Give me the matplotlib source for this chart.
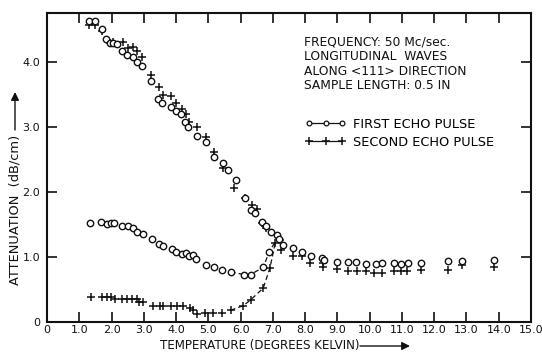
import numpy as np
import matplotlib
matplotlib.use("Agg")
import matplotlib.pyplot as plt
from matplotlib.lines import Line2D

plt.rcParams['font.family'] = ['DejaVu Sans']

# First echo pulse, main (upper) branch and high-temperature plateau
first_upper_T = [1.30, 1.49, 1.69, 1.82, 1.95, 2.06, 2.16, 2.31, 2.49, 2.67, 2.80, 2.93,
                 3.22, 3.45, 3.55, 3.84, 4.00, 4.14, 4.28, 4.38, 4.64, 4.92, 5.18, 5.46,
                 5.62, 5.86, 6.14, 6.31, 6.45, 6.67, 6.79, 6.93, 7.12, 7.19, 7.32, 7.63,
                 7.89, 8.18, 8.51, 8.59, 8.98, 9.32, 9.57, 9.88, 10.19, 10.39, 10.75,
                 10.96, 11.20, 11.59, 12.42, 12.87, 13.86]
first_upper_att = [4.62, 4.62, 4.50, 4.35, 4.29, 4.29, 4.27, 4.17, 4.11, 4.07, 4.00, 3.94,
                   3.70, 3.43, 3.37, 3.30, 3.25, 3.19, 3.08, 2.99, 2.86, 2.76, 2.53, 2.44,
                   2.34, 2.18, 1.90, 1.72, 1.68, 1.54, 1.48, 1.39, 1.34, 1.27, 1.18, 1.13,
                   1.08, 1.02, 0.98, 0.96, 0.93, 0.93, 0.93, 0.89, 0.89, 0.90, 0.90,
                   0.89, 0.90, 0.90, 0.94, 0.94, 0.95]

# First echo pulse, lower branch
first_lower_T = [1.33, 1.66, 1.85, 1.97, 2.09, 2.31, 2.50, 2.67, 2.78, 2.97, 3.24, 3.47,
                 3.60, 3.86, 3.99, 4.19, 4.31, 4.41, 4.53, 4.61, 4.92, 5.18, 5.43, 5.69,
                 6.10, 6.31, 6.70, 6.89]
first_lower_att = [1.52, 1.53, 1.51, 1.52, 1.52, 1.48, 1.48, 1.44, 1.38, 1.35, 1.28, 1.20,
                   1.17, 1.12, 1.08, 1.05, 1.06, 1.02, 1.03, 0.97, 0.88, 0.84, 0.80, 0.77,
                   0.73, 0.73, 0.84, 1.08]

# Second echo pulse, main (upper) branch and high-temperature plateau
second_upper_T = [1.30, 1.49, 1.69, 1.85, 2.06, 2.34, 2.52, 2.65, 2.80, 2.93, 3.22, 3.48,
                  3.58, 3.84, 4.00, 4.17, 4.31, 4.41, 4.66, 4.92, 5.18, 5.46, 5.80, 6.14,
                  6.34, 6.51, 6.67, 6.79, 7.22, 7.24, 7.63, 7.89, 8.15, 8.54, 8.56, 8.98,
                  9.34, 9.60, 9.88, 10.13, 10.37, 10.75, 10.96, 11.17, 11.59, 12.42,
                  12.87, 13.86]
second_upper_att = [4.56, 4.56, 4.48, 4.33, 4.31, 4.31, 4.21, 4.23, 4.17, 4.08, 3.80, 3.61,
                    3.49, 3.47, 3.36, 3.28, 3.19, 3.08, 3.00, 2.85, 2.62, 2.36, 2.06, 1.90,
                    1.80, 1.73, 1.52, 1.45, 1.26, 1.11, 1.02, 1.01, 0.90, 0.90, 0.85, 0.82,
                    0.79, 0.79, 0.78, 0.76, 0.76, 0.79, 0.79, 0.79, 0.80, 0.80,
                    0.87, 0.85]

# Second echo pulse, lower branch
second_lower_T = [1.35, 1.69, 1.85, 1.97, 2.11, 2.31, 2.47, 2.62, 2.78, 2.86, 2.97, 3.29,
                  3.50, 3.59, 3.84, 4.02, 4.22, 4.43, 4.53, 4.64, 4.90, 5.13, 5.41, 5.69,
                  6.08, 6.31, 6.70, 6.91, 7.07]
second_lower_att = [0.38, 0.39, 0.39, 0.39, 0.35, 0.35, 0.36, 0.35, 0.35, 0.31, 0.30, 0.24,
                    0.24, 0.24, 0.25, 0.25, 0.25, 0.21, 0.18, 0.13, 0.14, 0.14, 0.14, 0.18,
                    0.25, 0.34, 0.52, 0.83, 1.21]

# Lower branches are joined to the main curve by dashed lines above this temperature
dash_from_T = 5.6
junction = (7.15, 1.30)

x_ticks = [0, 1, 2, 3, 4, 5, 6, 7, 8, 9, 10, 11, 12, 13, 14, 15]
x_tick_labels = ['0', '1.0', '2.0', '3.0', '4.0', '5.0', '6.0', '7.0', '8.0', '9.0',
                 '10.0', '11.0', '12.0', '13.0', '14.0', '15.0']
y_ticks = [0, 1, 2, 3, 4]
y_tick_labels = ['0', '1.0', '2.0', '3.0', '4.0']

notes = ["FREQUENCY: 50 Mc/sec.", "LONGITUDINAL  WAVES",
         "ALONG <111> DIRECTION", "SAMPLE LENGTH: 0.5 IN"]

W, H = 542, 355
fig = plt.figure(figsize=(W / 100, H / 100), dpi=100)
ax = fig.add_axes([47 / W, 33 / H, 484 / W, 309 / H])
ax.set_xlim(0, 15)
ax.set_ylim(0, 4.75)

ink = '#111111'
circ = dict(marker='o', ms=4.6, mfc='white', mec=ink, mew=1.0, ls='none')
plus = dict(marker='+', ms=6.0, mec=ink, mew=1.1, ls='none')

# Dashed joins of the lower branches
for T, A in ((first_lower_T, first_lower_att), (second_lower_T, second_lower_att)):
    T = np.asarray(T)
    A = np.asarray(A)
    sel = T >= dash_from_T
    xs = np.append(T[sel], junction[0])
    ys = np.append(A[sel], junction[1])
    ax.plot(xs, ys, color=ink, lw=0.9, ls=(0, (4, 2.5)), zorder=2)

ax.plot(second_upper_T, second_upper_att, **plus, zorder=3)
ax.plot(second_lower_T, second_lower_att, **plus, zorder=3)
ax.plot(first_upper_T, first_upper_att, **circ, zorder=4)
ax.plot(first_lower_T, first_lower_att, **circ, zorder=4)

ax.set_xticks(x_ticks)
ax.set_xticklabels(x_tick_labels)
ax.set_yticks(y_ticks)
ax.set_yticklabels(y_tick_labels)
ax.tick_params(direction='in', length=7, width=1.2, top=True, right=True,
               labelsize=8, colors=ink)
ax.tick_params(axis='x', pad=2.5)
ax.tick_params(axis='y', pad=5)
for s in ax.spines.values():
    s.set_linewidth(1.5)
    s.set_color(ink)

for i, line in enumerate(notes):
    ax.text(304, H - 42 - i * 14.6, line, transform=None, fontsize=8.8,
            color=ink, va='center', ha='left')

handles = [Line2D([], [], color=ink, lw=0.9, marker='o', ms=3.4, mfc='white',
                  mec=ink, mew=0.9),
           Line2D([], [], color=ink, lw=0.9, marker='+', ms=6, mec=ink, mew=1.1)]
ax.legend(handles, ['FIRST ECHO PULSE', 'SECOND ECHO PULSE'], numpoints=3,
          loc='upper left', bbox_to_anchor=(305 / W, (H - 118) / H),
          bbox_transform=fig.transFigure, frameon=False, fontsize=9.3,
          handlelength=3.2, handletextpad=0.55, labelspacing=0.35,
          borderpad=0, borderaxespad=0)

# Axis titles with arrows
fig.text(260 / W, 9 / H, "TEMPERATURE (DEGREES KELVIN)", fontsize=8.6,
         ha='center', va='center', color=ink)
ax.annotate('', xy=(410, 9), xytext=(360, 9), xycoords='figure pixels',
            textcoords='figure pixels',
            arrowprops=dict(arrowstyle='-|>', color=ink, lw=1.0,
                            mutation_scale=12, shrinkA=0, shrinkB=0))
fig.text(15 / W, 145 / H, "ATTENUATION  (dB/cm)", fontsize=9.4, rotation=90,
         ha='center', va='center', color=ink)
ax.annotate('', xy=(15, H - 92), xytext=(15, H - 130), xycoords='figure pixels',
            textcoords='figure pixels',
            arrowprops=dict(arrowstyle='-|>', color=ink, lw=1.0,
                            mutation_scale=12, shrinkA=0, shrinkB=0))

fig.savefig('out.png', dpi=100, facecolor='white')
